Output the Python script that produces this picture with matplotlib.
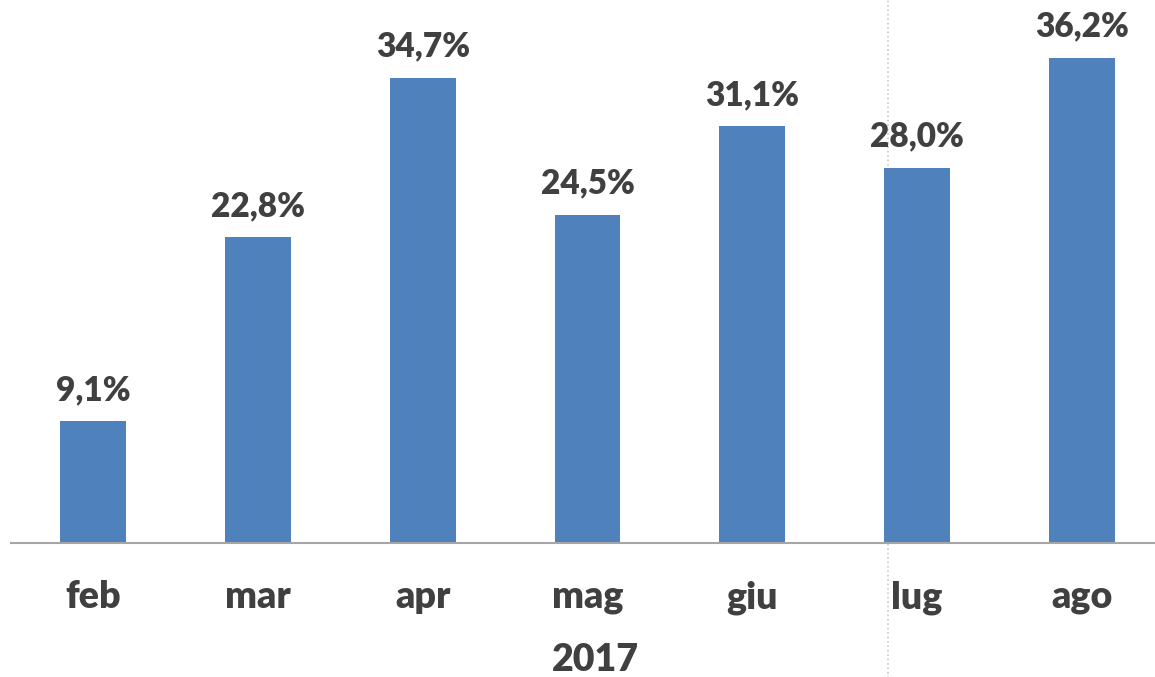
import matplotlib.pyplot as plt
import numpy as np

mesi = ['feb', 'mar', 'apr', 'mag', 'giu', 'lug', 'ago']
valori = [9.1, 22.8, 34.7, 24.5, 31.1, 28.0, 36.2]
anno = '2017'

plt.rcParams['font.family'] = ['Lato', 'DejaVu Sans']

W, H = 1155, 677
fig = plt.figure(figsize=(W / 100.0, H / 100.0), dpi=100)
# axes spans the category slots; right edge runs a bit past the image
ax = fig.add_axes([11.0 / W, 1 - 543.0 / H, 1153.0 / W, 543.0 / H])

x_pos = np.arange(len(mesi))
ax.bar(x_pos, valori, width=0.4, color='#4F81BD', zorder=2)

for x, v in zip(x_pos, valori):
	ax.annotate(('%.1f%%' % v).replace('.', ','), (x, v), xytext=(0, 21),
		textcoords='offset pixels', ha='center', va='baseline',
		fontsize=24, fontweight='heavy', color='#404040')

ax.set_xlim(-0.5, len(mesi) - 0.5)
ax.set_ylim(0, 40.5)
ax.set_xticks(x_pos)
ax.set_xticklabels(mesi, fontsize=27, fontweight='heavy', color='#404040')
ax.tick_params(axis='x', length=0, pad=27)
ax.set_yticks([])
for s in ['top', 'right', 'left']:
	ax.spines[s].set_visible(False)
ax.spines['bottom'].set_color('#A6A6A6')
ax.spines['bottom'].set_linewidth(1.5)

# dotted separator line
ax.axvline(4.825, ymin=-0.25, ymax=1.0, color='#C8C8C8', linestyle=':',
	linewidth=1.2, clip_on=False, zorder=1)

fig.text(595.0 / W, 1 - 660.0 / H, anno, ha='center', va='center',
	fontsize=27, fontweight='heavy', color='#404040')

fig.savefig('out.png', dpi=100)
plt.close(fig)
